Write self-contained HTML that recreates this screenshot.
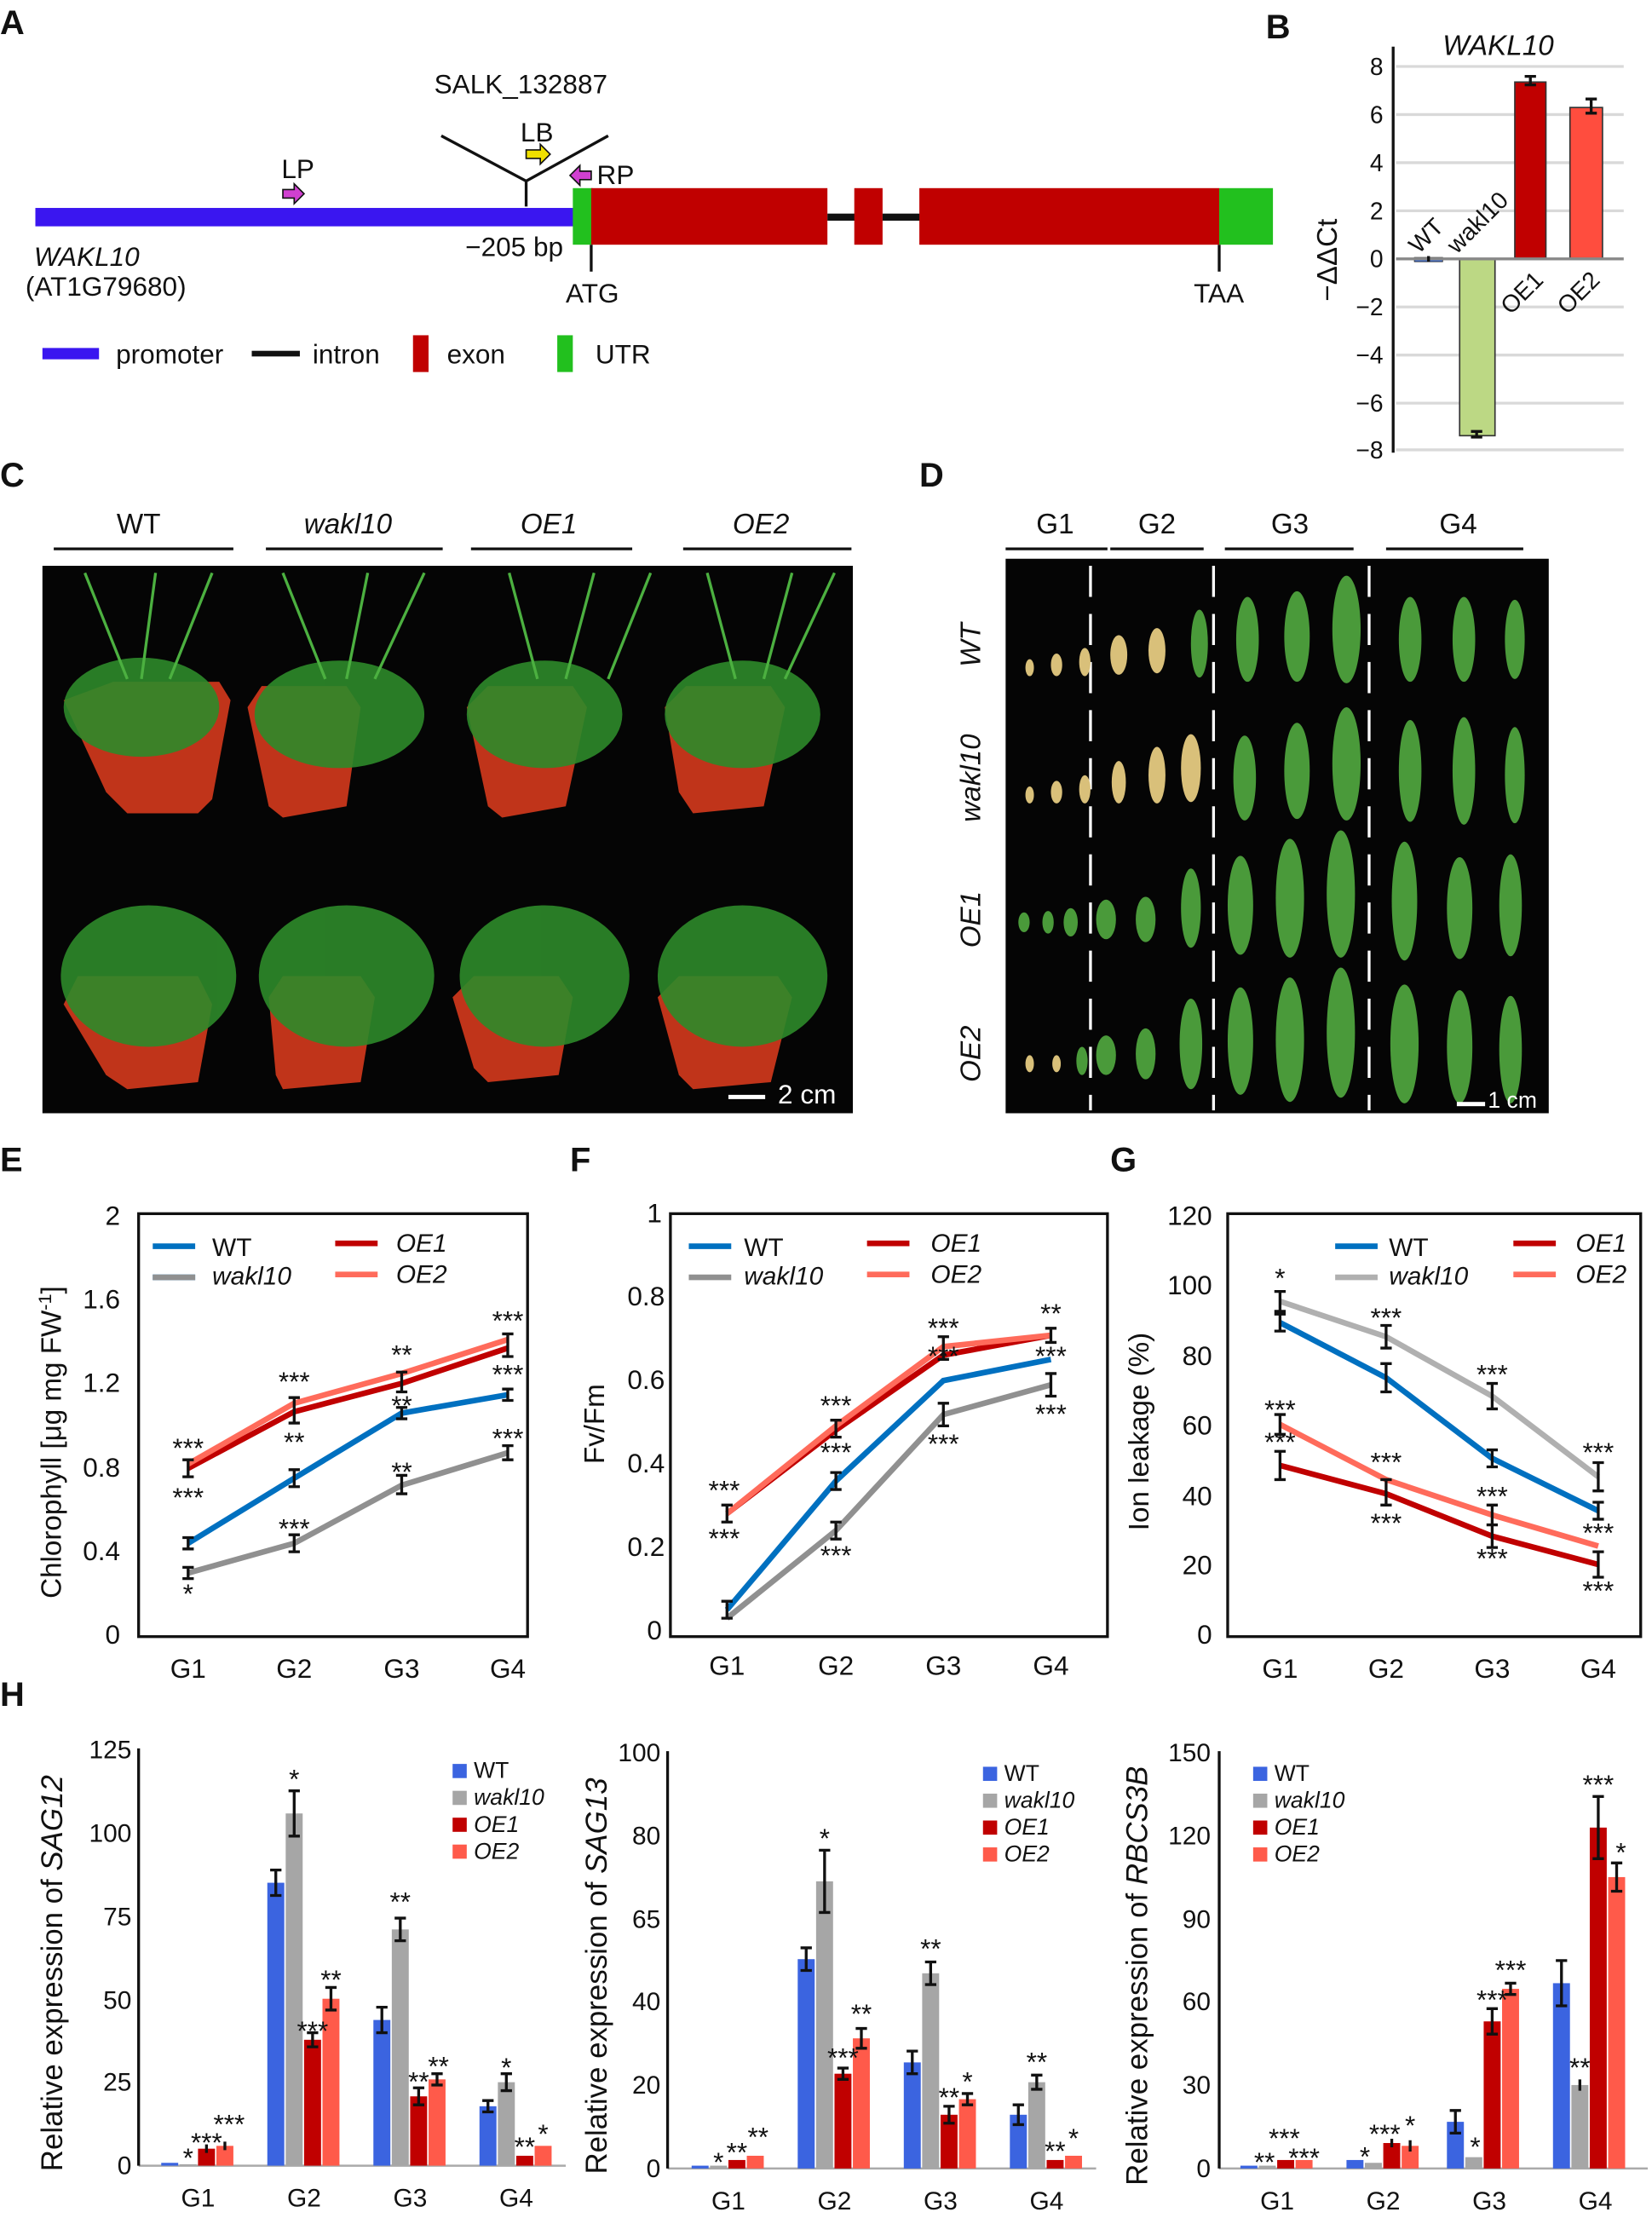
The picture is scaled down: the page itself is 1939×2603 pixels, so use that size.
<!DOCTYPE html>
<html><head><meta charset="utf-8"><style>
html,body{margin:0;padding:0;background:#fff}
svg{display:block}
text{font-family:"Liberation Sans",Arial,sans-serif;fill:#111}
.it{font-style:italic}
.L{font-size:24px;font-weight:bold}
.t{font-size:19px}
.ax{stroke:#111;stroke-width:2;fill:none}
.eb{stroke:#111;stroke-width:2;fill:none}
</style></head><body>
<svg width="1939" height="2603" viewBox="0 0 1168 1568" preserveAspectRatio="none" xmlns="http://www.w3.org/2000/svg">
<!-- Panel letters -->
<text x="0" y="24" class="L">A</text>
<text x="895" y="27" class="L">B</text>
<text x="0" y="344" class="L">C</text>
<text x="650" y="344" class="L">D</text>
<text x="0" y="828" class="L">E</text>
<text x="403" y="828" class="L">F</text>
<text x="785" y="828" class="L">G</text>
<text x="0" y="1206" class="L">H</text>

<!-- Panel A -->
<rect x="25" y="147" width="381" height="13" fill="#3a16f0"/>
<rect x="405" y="133" width="14" height="40" fill="#22c01e"/>
<rect x="418" y="133" width="167" height="40" fill="#c00000"/>
<rect x="585" y="151" width="20" height="5" fill="#111"/>
<rect x="604" y="133" width="20" height="40" fill="#c00000"/>
<rect x="624" y="151" width="27" height="5" fill="#111"/>
<rect x="650" y="133" width="212" height="40" fill="#c00000"/>
<rect x="862" y="133" width="38" height="40" fill="#22c01e"/>
<path d="M312 96 L372 128 L430 96 M372 128 V146" class="ax"/>
<text x="307" y="66" class="t">SALK_132887</text>
<text x="368" y="100" class="t">LB</text>
<path d="M372 106 h10 v-4 l7 7 l-7 7 v-4 h-10z" fill="#f0e000" stroke="#111" stroke-width="1"/>
<text x="199" y="126" class="t">LP</text>
<path d="M200 134 h8 v-4 l7 7 l-7 7 v-4 h-8z" fill="#d040d0" stroke="#111" stroke-width="1"/>
<text x="422" y="130" class="t">RP</text>
<path d="M418 121 h-8 v-4 l-7 7 l7 7 v-4 h8z" fill="#d040d0" stroke="#111" stroke-width="1"/>
<text x="24" y="188" class="t it">WAKL10</text>
<text x="18" y="209" class="t">(AT1G79680)</text>
<text x="329" y="181" class="t">−205 bp</text>
<path d="M418 173 V192 M862 173 V192" class="ax"/>
<text x="400" y="214" class="t">ATG</text>
<text x="844" y="214" class="t">TAA</text>
<rect x="30" y="246" width="40" height="8" fill="#3a16f0"/>
<text x="82" y="257" class="t">promoter</text>
<rect x="178" y="248" width="34" height="4" fill="#111"/>
<text x="221" y="257" class="t">intron</text>
<rect x="292" y="237" width="11" height="26" fill="#c00000"/>
<text x="316" y="257" class="t">exon</text>
<rect x="394" y="237" width="11" height="26" fill="#22c01e"/>
<text x="421" y="257" class="t">UTR</text>

<!-- Panel B -->
<g stroke="#d9d9d9" stroke-width="2">
<path d="M987 47H1148M987 81H1148M987 115H1148M987 149H1148M987 217H1148M987 251H1148M987 285H1148M987 318H1148"/>
</g>
<text x="1020" y="39" class="t it" style="font-size:20px">WAKL10</text>
<path d="M985 33 V320" class="ax"/>
<g class="t" text-anchor="end" style="font-size:17px">
<text x="978" y="53">8</text><text x="978" y="87">6</text><text x="978" y="121">4</text><text x="978" y="155">2</text><text x="978" y="189">0</text><text x="978" y="223">−2</text><text x="978" y="257">−4</text><text x="978" y="291">−6</text><text x="978" y="324">−8</text>
</g>
<text transform="translate(945,213) rotate(-90)" class="t" style="font-size:20px">−ΔΔCt</text>
<rect x="1000" y="182" width="20" height="3" fill="#3f6fd8" stroke="#222" stroke-width=".5"/>
<rect x="1032" y="183" width="25" height="125" fill="#bcd884" stroke="#333" stroke-width="1"/>
<rect x="1071" y="58" width="22" height="125" fill="#c00000" stroke="#333" stroke-width="1"/>
<rect x="1110" y="76" width="23" height="107" fill="#ff4d3e" stroke="#333" stroke-width="1"/>
<path d="M987 183H1148" stroke="#888" stroke-width="2"/>
<path class="eb" d="M1082 54v6M1078 54h8M1078 60h8M1125 70v10M1121 70h8M1121 80h8M1044 305v4M1040 305h8M1040 309h8M1010 181v4"/>
<text transform="translate(1003,180) rotate(-45)" class="t" style="font-size:17px">WT</text>
<text transform="translate(1030,180) rotate(-45)" class="t" style="font-size:17px">wakl10</text>
<text transform="translate(1068,223) rotate(-45)" class="t" style="font-size:17px">OE1</text>
<text transform="translate(1108,223) rotate(-45)" class="t" style="font-size:17px">OE2</text>

<!-- Panel C -->
<g class="t" style="font-size:20px" text-anchor="middle">
<text x="98" y="377">WT</text><text x="246" y="377" class="it">wakl10</text><text x="388" y="377" class="it">OE1</text><text x="538" y="377" class="it">OE2</text>
</g>
<path d="M38 388H165M188 388H313M333 388H447M483 388H602" class="ax"/>
<rect x="30" y="400" width="573" height="387" fill="#050505"/>
<g fill="#c0341a">
<path d="M45 495 L80 482 L155 482 L163 495 L150 565 L140 575 L90 575 L75 560Z"/>
<path d="M175 500 L185 485 L245 485 L255 500 L245 570 L200 578 L190 570Z"/>
<path d="M330 500 L345 485 L405 485 L415 500 L400 570 L355 578 L345 570Z"/>
<path d="M470 500 L485 485 L545 485 L555 500 L540 570 L490 575 L480 560Z"/>
<path d="M45 710 L55 690 L140 690 L150 710 L140 765 L90 770 L75 760Z"/>
<path d="M190 705 L200 690 L255 690 L265 705 L255 765 L200 770 L195 760Z"/>
<path d="M320 705 L335 690 L395 690 L405 705 L395 760 L345 765 L335 755Z"/>
<path d="M465 705 L480 690 L550 690 L560 705 L545 765 L490 770 L480 760Z"/>
</g>
<g fill="#2e8a2a" opacity=".9">
<ellipse cx="100" cy="500" rx="55" ry="35"/><ellipse cx="240" cy="505" rx="60" ry="38"/><ellipse cx="385" cy="505" rx="55" ry="38"/><ellipse cx="525" cy="505" rx="55" ry="38"/>
<ellipse cx="105" cy="690" rx="62" ry="50"/><ellipse cx="245" cy="690" rx="62" ry="50"/><ellipse cx="385" cy="690" rx="60" ry="50"/><ellipse cx="525" cy="690" rx="60" ry="50"/>
</g>
<g stroke="#4cb040" stroke-width="2" fill="none">
<path d="M60 405 L90 480 M110 405 L100 480 M150 405 L120 480 M200 405 L230 480 M260 405 L245 480 M300 405 L265 480 M360 405 L380 480 M420 405 L400 480 M460 405 L430 480 M500 405 L520 480 M560 405 L540 480 M590 405 L555 480"/>
</g>
<rect x="515" y="774" width="26" height="3" fill="#fff"/>
<text x="550" y="780" style="font-size:19px;fill:#fff">2 cm</text>

<!-- Panel D -->
<g class="t" style="font-size:20px" text-anchor="middle">
<text x="746" y="377">G1</text><text x="818" y="377">G2</text><text x="912" y="377">G3</text><text x="1031" y="377">G4</text>
</g>
<path d="M711 388H783M785 388H851M866 388H957M980 388H1077" class="ax"/>
<rect x="711" y="395" width="384" height="392" fill="#050505"/>
<path d="M771 400V785M858 400V785M968 400V785" stroke="#fff" stroke-width="2" stroke-dasharray="22,12"/>
<g class="t it" style="font-size:20px" text-anchor="middle">
<text transform="translate(693,456) rotate(-90)">WT</text>
<text transform="translate(693,550) rotate(-90)">wakl10</text>
<text transform="translate(693,650) rotate(-90)">OE1</text>
<text transform="translate(693,745) rotate(-90)">OE2</text>
</g>
<g fill="#d9c07a">
<ellipse cx="728" cy="472" rx="3" ry="6"/><ellipse cx="747" cy="470" rx="4" ry="8"/><ellipse cx="767" cy="468" rx="4" ry="10"/><ellipse cx="791" cy="463" rx="6" ry="14"/><ellipse cx="818" cy="460" rx="6" ry="16"/>
<ellipse cx="728" cy="562" rx="3" ry="6"/><ellipse cx="747" cy="560" rx="4" ry="8"/><ellipse cx="767" cy="558" rx="4" ry="10"/><ellipse cx="791" cy="553" rx="5" ry="15"/><ellipse cx="818" cy="548" rx="6" ry="20"/><ellipse cx="842" cy="543" rx="7" ry="24"/>
<ellipse cx="728" cy="752" rx="3" ry="6"/><ellipse cx="747" cy="752" rx="3" ry="6"/>
</g>
<g fill="#4a9a3a">
<ellipse cx="848" cy="455" rx="6" ry="24"/><ellipse cx="882" cy="452" rx="8" ry="30"/><ellipse cx="917" cy="450" rx="9" ry="32"/><ellipse cx="952" cy="445" rx="10" ry="38"/><ellipse cx="997" cy="452" rx="8" ry="30"/><ellipse cx="1035" cy="452" rx="8" ry="30"/><ellipse cx="1071" cy="452" rx="7" ry="28"/>
<ellipse cx="880" cy="550" rx="8" ry="30"/><ellipse cx="917" cy="545" rx="9" ry="34"/><ellipse cx="952" cy="540" rx="10" ry="40"/><ellipse cx="997" cy="545" rx="8" ry="36"/><ellipse cx="1035" cy="545" rx="8" ry="38"/><ellipse cx="1071" cy="548" rx="7" ry="34"/>
<ellipse cx="724" cy="652" rx="4" ry="7"/><ellipse cx="741" cy="652" rx="4" ry="8"/><ellipse cx="757" cy="652" rx="5" ry="10"/><ellipse cx="782" cy="650" rx="7" ry="14"/><ellipse cx="810" cy="650" rx="7" ry="16"/><ellipse cx="842" cy="642" rx="7" ry="28"/><ellipse cx="877" cy="640" rx="9" ry="35"/><ellipse cx="912" cy="635" rx="10" ry="42"/><ellipse cx="948" cy="632" rx="10" ry="45"/><ellipse cx="993" cy="637" rx="9" ry="42"/><ellipse cx="1032" cy="642" rx="9" ry="36"/><ellipse cx="1068" cy="640" rx="8" ry="36"/>
<ellipse cx="765" cy="750" rx="4" ry="10"/><ellipse cx="782" cy="746" rx="7" ry="14"/><ellipse cx="810" cy="745" rx="7" ry="18"/><ellipse cx="842" cy="738" rx="8" ry="32"/><ellipse cx="877" cy="736" rx="9" ry="38"/><ellipse cx="912" cy="735" rx="10" ry="44"/><ellipse cx="948" cy="730" rx="10" ry="46"/><ellipse cx="993" cy="738" rx="10" ry="42"/><ellipse cx="1032" cy="740" rx="9" ry="40"/><ellipse cx="1068" cy="742" rx="8" ry="38"/>
</g>
<rect x="1030" y="779" width="20" height="3" fill="#fff"/>
<text x="1052" y="783" style="font-size:16px;fill:#fff">1 cm</text>

<!-- Panel E -->
<rect x="98" y="858" width="275" height="299" class="ax"/>
<g class="t" text-anchor="end" style="font-size:19px">
<text x="85" y="866">2</text><text x="85" y="925">1.6</text><text x="85" y="984">1.2</text><text x="85" y="1044">0.8</text><text x="85" y="1103">0.4</text><text x="85" y="1162">0</text>
</g>
<g class="t" text-anchor="middle" style="font-size:19px">
<text x="133" y="1186">G1</text><text x="208" y="1186">G2</text><text x="284" y="1186">G3</text><text x="359" y="1186">G4</text>
</g>
<text transform="translate(43,1130) rotate(-90)" class="t" style="font-size:20px">Chlorophyll [μg mg FW<tspan dy="-7" style="font-size:13px">-1</tspan><tspan dy="7">]</tspan></text>
<g fill="none" stroke-width="4">
<polyline points="133,1091 208,1045 284,999 359,986" stroke="#0070c0"/>
<polyline points="133,1112 208,1091 284,1050 359,1027" stroke="#909090"/>
<polyline points="133,1038 208,998 284,978 359,953" stroke="#c00000"/>
<polyline points="133,1035 208,992 284,971 359,947" stroke="#ff6b5b"/>
</g>
<path class="eb" d="M133 1087v8M129 1087h8M129 1095h8M208 1039v12M204 1039h8M204 1051h8M284 995v8M280 995h8M280 1003h8M359 982v8M355 982h8M355 990h8M133 1108v8M129 1108h8M129 1116h8M208 1085v12M204 1085h8M204 1097h8M284 1043v13M280 1043h8M280 1056h8M359 1022v10M355 1022h8M355 1032h8M133 1032v12M129 1032h8M129 1044h8M208 988v18M204 988h8M204 1006h8M284 970v14M280 970h8M280 984h8M359 943v16M355 943h8M355 959h8"/>
<g class="t" style="font-size:19px" text-anchor="middle">
<text x="133" y="1030">***</text><text x="133" y="1065">***</text><text x="133" y="1133">*</text>
<text x="208" y="983">***</text><text x="208" y="1026">**</text><text x="208" y="1087">***</text>
<text x="284" y="964">**</text><text x="284" y="1000">**</text><text x="284" y="1047">**</text>
<text x="359" y="940">***</text><text x="359" y="978">***</text><text x="359" y="1023">***</text>
</g>
<g class="t" style="font-size:18px">
<path d="M108 881h30M108 903h30" stroke-width="4" stroke="#0070c0"/><path d="M108 903h30" stroke-width="4" stroke="#909090"/>
<text x="150" y="888">WT</text><text x="150" y="908" class="it">wakl10</text>
<path d="M237 879h30" stroke-width="4" stroke="#c00000"/><path d="M237 901h30" stroke-width="4" stroke="#ff6b5b"/>
<text x="280" y="885" class="it">OE1</text><text x="280" y="907" class="it">OE2</text>
</g>

<!-- Panel F -->
<rect x="474" y="858" width="309" height="299" class="ax"/>
<g class="t" text-anchor="end" style="font-size:19px">
<text x="468" y="864">1</text><text x="470" y="923">0.8</text><text x="470" y="982">0.6</text><text x="470" y="1041">0.4</text><text x="470" y="1100">0.2</text><text x="468" y="1159">0</text>
</g>
<g class="t" text-anchor="middle" style="font-size:19px">
<text x="514" y="1184">G1</text><text x="591" y="1184">G2</text><text x="667" y="1184">G3</text><text x="743" y="1184">G4</text>
</g>
<text transform="translate(427,1035) rotate(-90)" class="t" style="font-size:20px">Fv/Fm</text>
<g fill="none" stroke-width="4">
<polyline points="514,1138 591,1047 667,976 743,961" stroke="#0070c0"/>
<polyline points="514,1144 591,1082 667,1000 743,979" stroke="#909090"/>
<polyline points="514,1070 591,1011 667,958 743,944" stroke="#c00000"/>
<polyline points="514,1070 591,1008 667,952 743,944" stroke="#ff6b5b"/>
</g>
<path class="eb" d="M514 1132v12M510 1132h8M510 1144h8M591 1041v12M587 1041h8M587 1053h8M667 1070v0M591 1076v12M587 1076h8M587 1088h8M667 992v16M663 992h8M663 1008h8M743 971v16M739 971h8M739 987h8M514 1064v12M510 1064h8M510 1076h8M591 1004v12M587 1004h8M587 1016h8M667 945v16M663 945h8M663 961h8M743 939v10M739 939h8M739 949h8"/>
<g class="t" style="font-size:19px" text-anchor="middle">
<text x="512" y="1060">***</text><text x="512" y="1094">***</text>
<text x="591" y="1000">***</text><text x="591" y="1033">***</text><text x="591" y="1106">***</text>
<text x="667" y="945">***</text><text x="667" y="965">***</text><text x="667" y="1027">***</text>
<text x="743" y="935">**</text><text x="743" y="965">***</text><text x="743" y="1006">***</text>
</g>
<g class="t" style="font-size:18px">
<path d="M487 881h30" stroke-width="4" stroke="#0070c0"/><path d="M487 903h30" stroke-width="4" stroke="#909090"/>
<text x="526" y="888">WT</text><text x="526" y="908" class="it">wakl10</text>
<path d="M613 879h30" stroke-width="4" stroke="#c00000"/><path d="M613 901h30" stroke-width="4" stroke="#ff6b5b"/>
<text x="658" y="885" class="it">OE1</text><text x="658" y="907" class="it">OE2</text>
</g>

<!-- Panel G -->
<rect x="868" y="858" width="292" height="299" class="ax"/>
<g class="t" text-anchor="end" style="font-size:19px">
<text x="857" y="866">120</text><text x="857" y="915">100</text><text x="857" y="965">80</text><text x="857" y="1014">60</text><text x="857" y="1064">40</text><text x="857" y="1113">20</text><text x="857" y="1162">0</text>
</g>
<g class="t" text-anchor="middle" style="font-size:19px">
<text x="905" y="1186">G1</text><text x="980" y="1186">G2</text><text x="1055" y="1186">G3</text><text x="1130" y="1186">G4</text>
</g>
<text transform="translate(812,1082) rotate(-90)" class="t" style="font-size:20px">Ion leakage (%)</text>
<g fill="none" stroke-width="4">
<polyline points="905,935 980,974 1055,1031 1130,1068" stroke="#0070c0"/>
<polyline points="905,920 980,945 1055,987 1130,1044" stroke="#b0b0b0"/>
<polyline points="905,1036 980,1056 1055,1086 1130,1106" stroke="#c00000"/>
<polyline points="905,1007 980,1046 1055,1071 1130,1093" stroke="#ff6b5b"/>
</g>
<path class="eb" d="M905 913v14M901 913h8M901 927h8M905 929v12M901 929h8M901 941h8M980 937v16M976 937h8M976 953h8M980 964v20M976 964h8M976 984h8M1055 978v18M1051 978h8M1051 996h8M1055 1025v12M1051 1025h8M1051 1037h8M1130 1034v20M1126 1034h8M1126 1054h8M1130 1062v12M1126 1062h8M1126 1074h8M905 1026v20M901 1026h8M901 1046h8M905 1000v14M901 1000h8M901 1014h8M980 1046v18M976 1046h8M976 1064h8M1055 1078v16M1051 1078h8M1051 1094h8M1055 1064v14M1051 1064h8M1051 1078h8M1130 1097v18M1126 1097h8M1126 1115h8"/>
<g class="t" style="font-size:19px" text-anchor="middle">
<text x="905" y="910">*</text><text x="905" y="1003">***</text><text x="905" y="1026">***</text>
<text x="980" y="938">***</text><text x="980" y="1040">***</text><text x="980" y="1083">***</text>
<text x="1055" y="978">***</text><text x="1055" y="1064">***</text><text x="1055" y="1108">***</text>
<text x="1130" y="1033">***</text><text x="1130" y="1090">***</text><text x="1130" y="1131">***</text>
</g>
<g class="t" style="font-size:18px">
<path d="M944 881h30" stroke-width="4" stroke="#0070c0"/><path d="M944 903h30" stroke-width="4" stroke="#b0b0b0"/>
<text x="982" y="888">WT</text><text x="982" y="908" class="it">wakl10</text>
<path d="M1070 879h30" stroke-width="4" stroke="#c00000"/><path d="M1070 901h30" stroke-width="4" stroke="#ff6b5b"/>
<text x="1114" y="885" class="it">OE1</text><text x="1114" y="907" class="it">OE2</text>
</g>

<!-- Panel H1 -->
<g class="t" text-anchor="end" style="font-size:18px">
<text x="93" y="1243">125</text><text x="93" y="1302">100</text><text x="93" y="1361">75</text><text x="93" y="1420">50</text><text x="93" y="1478">25</text><text x="93" y="1537">0</text>
</g>
<path d="M98 1531H400" stroke="#aaa" stroke-width="1.5"/>
<path d="M98 1236V1531" class="ax"/>
<text transform="translate(44,1535) rotate(-90)" class="t" style="font-size:21px">Relative expression of <tspan class="it">SAG12</tspan></text>
<g>
<rect x="114" y="1529" width="12" height="2" fill="#3b64e0"/><rect x="127" y="1530" width="12" height="1" fill="#a6a6a6"/><rect x="140" y="1519" width="12" height="12" fill="#c00000"/><rect x="153" y="1517" width="12" height="14" fill="#ff5a4a"/>
<rect x="189" y="1331" width="12" height="200" fill="#3b64e0"/><rect x="202" y="1282" width="12" height="249" fill="#a6a6a6"/><rect x="215" y="1442" width="12" height="89" fill="#c00000"/><rect x="228" y="1413" width="12" height="118" fill="#ff5a4a"/>
<rect x="264" y="1428" width="12" height="103" fill="#3b64e0"/><rect x="277" y="1364" width="12" height="167" fill="#a6a6a6"/><rect x="290" y="1482" width="12" height="49" fill="#c00000"/><rect x="303" y="1470" width="12" height="61" fill="#ff5a4a"/>
<rect x="339" y="1489" width="12" height="42" fill="#3b64e0"/><rect x="352" y="1472" width="12" height="59" fill="#a6a6a6"/><rect x="365" y="1524" width="12" height="7" fill="#c00000"/><rect x="378" y="1517" width="12" height="14" fill="#ff5a4a"/>
</g>
<path class="eb" d="M195 1322v18M191 1322h8M191 1340h8M208 1266v32M204 1266h8M204 1298h8M221 1437v10M217 1437h8M217 1447h8M234 1405v16M230 1405h8M230 1421h8M270 1419v18M266 1419h8M266 1437h8M283 1356v16M279 1356h8M279 1372h8M296 1476v12M292 1476h8M292 1488h8M309 1466v8M305 1466h8M305 1474h8M345 1485v8M341 1485h8M341 1493h8M358 1466v12M354 1466h8M354 1478h8M146 1516v6M159 1514v6"/>
<g class="t" style="font-size:19px" text-anchor="middle">
<text x="133" y="1532">*</text><text x="146" y="1521">***</text><text x="162" y="1508">***</text>
<text x="208" y="1264">*</text><text x="221" y="1442">***</text><text x="234" y="1406">**</text>
<text x="283" y="1351">**</text><text x="296" y="1478">**</text><text x="310" y="1467">**</text>
<text x="358" y="1468">*</text><text x="371" y="1524">**</text><text x="384" y="1515">*</text>
</g>
<g class="t" text-anchor="middle" style="font-size:18px">
<text x="140" y="1560">G1</text><text x="215" y="1560">G2</text><text x="290" y="1560">G3</text><text x="365" y="1560">G4</text>
</g>
<g class="t" style="font-size:16px">
<rect x="320" y="1247" width="10" height="10" fill="#3b64e0"/><text x="335" y="1257">WT</text>
<rect x="320" y="1266" width="10" height="10" fill="#a6a6a6"/><text x="335" y="1276" class="it">wakl10</text>
<rect x="320" y="1285" width="10" height="10" fill="#c00000"/><text x="335" y="1295" class="it">OE1</text>
<rect x="320" y="1304" width="10" height="10" fill="#ff5a4a"/><text x="335" y="1314" class="it">OE2</text>
</g>

<!-- Panel H2 -->
<g class="t" text-anchor="end" style="font-size:18px">
<text x="467" y="1245">100</text><text x="467" y="1304">80</text><text x="467" y="1363">65</text><text x="467" y="1421">40</text><text x="467" y="1480">20</text><text x="467" y="1539">0</text>
</g>
<path d="M472 1533H775" stroke="#aaa" stroke-width="1.5"/>
<path d="M472 1238V1533" class="ax"/>
<text transform="translate(429,1537) rotate(-90)" class="t" style="font-size:21px">Relative expression of <tspan class="it">SAG13</tspan></text>
<g>
<rect x="489" y="1531" width="12" height="2" fill="#3b64e0"/><rect x="502" y="1531" width="12" height="2" fill="#a6a6a6"/><rect x="515" y="1527" width="12" height="6" fill="#c00000"/><rect x="528" y="1524" width="12" height="9" fill="#ff5a4a"/>
<rect x="564" y="1385" width="12" height="148" fill="#3b64e0"/><rect x="577" y="1330" width="12" height="203" fill="#a6a6a6"/><rect x="590" y="1466" width="12" height="67" fill="#c00000"/><rect x="603" y="1441" width="12" height="92" fill="#ff5a4a"/>
<rect x="639" y="1458" width="12" height="75" fill="#3b64e0"/><rect x="652" y="1395" width="12" height="138" fill="#a6a6a6"/><rect x="665" y="1495" width="12" height="38" fill="#c00000"/><rect x="678" y="1484" width="12" height="49" fill="#ff5a4a"/>
<rect x="714" y="1495" width="12" height="38" fill="#3b64e0"/><rect x="727" y="1472" width="12" height="61" fill="#a6a6a6"/><rect x="740" y="1527" width="12" height="6" fill="#c00000"/><rect x="753" y="1524" width="12" height="9" fill="#ff5a4a"/>
</g>
<path class="eb" d="M570 1377v16M566 1377h8M566 1393h8M583 1308v44M579 1308h8M579 1352h8M596 1462v8M592 1462h8M592 1470h8M609 1434v14M605 1434h8M605 1448h8M645 1450v16M641 1450h8M641 1466h8M658 1387v16M654 1387h8M654 1403h8M671 1489v12M667 1489h8M667 1501h8M684 1480v8M680 1480h8M680 1488h8M720 1488v14M716 1488h8M716 1502h8M733 1467v10M729 1467h8M729 1477h8"/>
<g class="t" style="font-size:19px" text-anchor="middle">
<text x="508" y="1535">*</text><text x="521" y="1528">**</text><text x="536" y="1517">**</text>
<text x="583" y="1306">*</text><text x="596" y="1461">***</text><text x="609" y="1430">**</text>
<text x="658" y="1384">**</text><text x="671" y="1489">**</text><text x="684" y="1478">*</text>
<text x="733" y="1464">**</text><text x="746" y="1527">**</text><text x="759" y="1518">*</text>
</g>
<g class="t" text-anchor="middle" style="font-size:18px">
<text x="515" y="1562">G1</text><text x="590" y="1562">G2</text><text x="665" y="1562">G3</text><text x="740" y="1562">G4</text>
</g>
<g class="t" style="font-size:16px">
<rect x="695" y="1249" width="10" height="10" fill="#3b64e0"/><text x="710" y="1259">WT</text>
<rect x="695" y="1268" width="10" height="10" fill="#a6a6a6"/><text x="710" y="1278" class="it">wakl10</text>
<rect x="695" y="1287" width="10" height="10" fill="#c00000"/><text x="710" y="1297" class="it">OE1</text>
<rect x="695" y="1306" width="10" height="10" fill="#ff5a4a"/><text x="710" y="1316" class="it">OE2</text>
</g>

<!-- Panel H3 -->
<g class="t" text-anchor="end" style="font-size:18px">
<text x="856" y="1245">150</text><text x="856" y="1304">120</text><text x="856" y="1363">90</text><text x="856" y="1421">60</text><text x="856" y="1480">30</text><text x="856" y="1539">0</text>
</g>
<path d="M862 1533H1165" stroke="#aaa" stroke-width="1.5"/>
<path d="M862 1238V1533" class="ax"/>
<text transform="translate(811,1545) rotate(-90)" class="t" style="font-size:21px">Relative expression of <tspan class="it">RBCS3B</tspan></text>
<g>
<rect x="877" y="1531" width="12" height="2" fill="#3b64e0"/><rect x="890" y="1531" width="12" height="2" fill="#a6a6a6"/><rect x="903" y="1527" width="12" height="6" fill="#c00000"/><rect x="916" y="1527" width="12" height="6" fill="#ff5a4a"/>
<rect x="952" y="1527" width="12" height="6" fill="#3b64e0"/><rect x="965" y="1529" width="12" height="4" fill="#a6a6a6"/><rect x="978" y="1515" width="12" height="18" fill="#c00000"/><rect x="991" y="1517" width="12" height="16" fill="#ff5a4a"/>
<rect x="1023" y="1500" width="12" height="33" fill="#3b64e0"/><rect x="1036" y="1525" width="12" height="8" fill="#a6a6a6"/><rect x="1049" y="1429" width="12" height="104" fill="#c00000"/><rect x="1062" y="1406" width="12" height="127" fill="#ff5a4a"/>
<rect x="1098" y="1402" width="12" height="131" fill="#3b64e0"/><rect x="1111" y="1474" width="12" height="59" fill="#a6a6a6"/><rect x="1124" y="1292" width="12" height="241" fill="#c00000"/><rect x="1137" y="1327" width="12" height="206" fill="#ff5a4a"/>
</g>
<path class="eb" d="M1029 1492v16M1025 1492h8M1025 1508h8M1055 1420v18M1051 1420h8M1051 1438h8M1068 1402v8M1064 1402h8M1064 1410h8M1104 1386v32M1100 1386h8M1100 1418h8M1117 1470v8M1130 1270v44M1126 1270h8M1126 1314h8M1143 1317v20M1139 1317h8M1139 1337h8M984 1512v6M997 1513v8"/>
<g class="t" style="font-size:19px" text-anchor="middle">
<text x="894" y="1535">**</text><text x="908" y="1518">***</text><text x="922" y="1532">***</text>
<text x="965" y="1531">*</text><text x="979" y="1515">***</text><text x="997" y="1509">*</text>
<text x="1043" y="1524">*</text><text x="1055" y="1420">***</text><text x="1068" y="1399">***</text>
<text x="1117" y="1468">**</text><text x="1130" y="1268">***</text><text x="1146" y="1316">*</text>
</g>
<g class="t" text-anchor="middle" style="font-size:18px">
<text x="903" y="1562">G1</text><text x="978" y="1562">G2</text><text x="1053" y="1562">G3</text><text x="1128" y="1562">G4</text>
</g>
<g class="t" style="font-size:16px">
<rect x="886" y="1249" width="10" height="10" fill="#3b64e0"/><text x="901" y="1259">WT</text>
<rect x="886" y="1268" width="10" height="10" fill="#a6a6a6"/><text x="901" y="1278" class="it">wakl10</text>
<rect x="886" y="1287" width="10" height="10" fill="#c00000"/><text x="901" y="1297" class="it">OE1</text>
<rect x="886" y="1306" width="10" height="10" fill="#ff5a4a"/><text x="901" y="1316" class="it">OE2</text>
</g>
</svg>
</body></html>
